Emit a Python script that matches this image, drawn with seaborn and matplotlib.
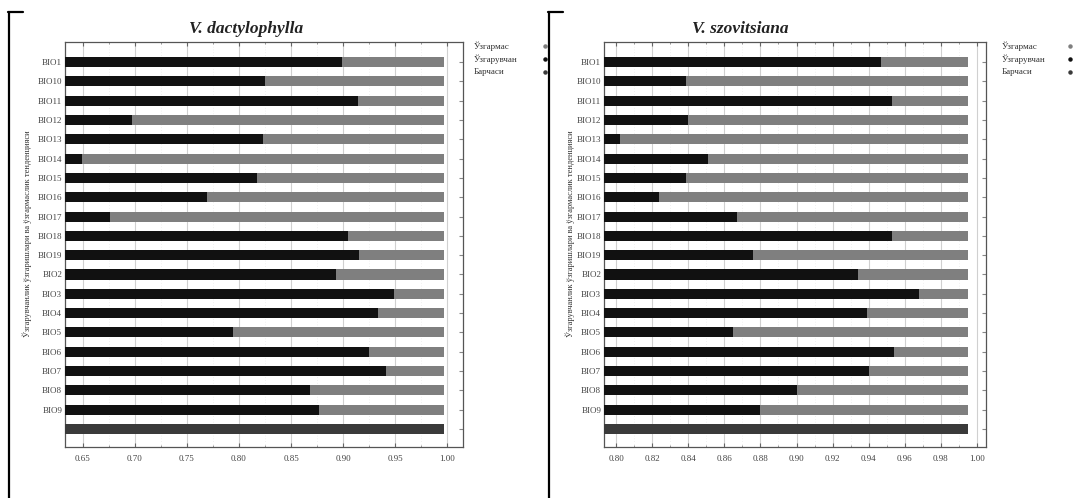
import matplotlib
matplotlib.use("Agg")
import matplotlib.pyplot as plt
from matplotlib.lines import Line2D
from matplotlib.ticker import MultipleLocator
import seaborn as sns
import pandas as pd

# ---------------- data ----------------
variables = ["BIO1", "BIO10", "BIO11", "BIO12", "BIO13", "BIO14", "BIO15", "BIO16",
             "BIO17", "BIO18", "BIO19", "BIO2", "BIO3", "BIO4", "BIO5", "BIO6",
             "BIO7", "BIO8", "BIO9"]
all_label = ""

legend_labels = ["Ўзгармас", "Ўзгарувчан", "Барчаси"]

dact_without = [0.997, 0.997, 0.997, 0.997, 0.997, 0.997, 0.997, 0.997, 0.997, 0.997,
                0.997, 0.997, 0.997, 0.997, 0.997, 0.997, 0.997, 0.997, 0.997]
dact_only = [0.899, 0.825, 0.914, 0.697, 0.823, 0.649, 0.817, 0.769, 0.676, 0.905,
             0.915, 0.893, 0.949, 0.933, 0.794, 0.925, 0.941, 0.868, 0.877]
dact_all = [0.997]

szov_without = [0.995, 0.995, 0.995, 0.995, 0.995, 0.995, 0.995, 0.995, 0.995, 0.995,
                0.995, 0.995, 0.995, 0.995, 0.995, 0.995, 0.995, 0.995, 0.995]
szov_only = [0.947, 0.839, 0.953, 0.840, 0.802, 0.851, 0.839, 0.824, 0.867, 0.953,
             0.876, 0.934, 0.968, 0.939, 0.865, 0.954, 0.940, 0.900, 0.880]
szov_all = [0.995]

titles = ["V. dactylophylla", "V. szovitsiana"]
ylabel = "Ўзгарувчанлик ўзгаришлари ва ўзгармаслик тенденцияси"
x_ticks_dact = [0.65, 0.70, 0.75, 0.80, 0.85, 0.90, 0.95, 1.00]
x_ticks_szov = [0.80, 0.82, 0.84, 0.86, 0.88, 0.90, 0.92, 0.94, 0.96, 0.98, 1.00]

# ---------------- style ----------------
sns.set_style("white")
plt.rcParams["font.family"] = ["Liberation Serif", "DejaVu Serif"]

col_without = "#7f7f7f"
col_only = "#111111"
col_all = "#3a3a3a"

W, H = 1078, 498
fig = plt.figure(figsize=(W / 100, H / 100), dpi=100)


def fx(px):
    return px / W


def fy(py):
    return 1 - py / H


panels = [
    dict(left=65, right=463, without=dact_without, only=dact_only, allv=dact_all,
         ticks=x_ticks_dact, xlim=(0.633, 1.015), fmt="{:.2f}", minor=0.025,
         title=titles[0], title_x=246, ylab_x=27, leg_x=474, dot_x=545, bracket=8.5),
    dict(left=604, right=986, without=szov_without, only=szov_only, allv=szov_all,
         ticks=x_ticks_szov, xlim=(0.7933, 1.005), fmt="{:.2f}", minor=0.01,
         title=titles[1], title_x=740, ylab_x=570, leg_x=1002, dot_x=1070, bracket=548.5),
]

top, bottom = 42, 447
order = variables + [all_label]

for p in panels:
    ax = fig.add_axes([fx(p["left"]), fy(bottom), fx(p["right"] - p["left"]), (bottom - top) / H])
    df_w = pd.DataFrame({"var": variables, "val": p["without"]})
    df_o = pd.DataFrame({"var": variables, "val": p["only"]})
    df_a = pd.DataFrame({"var": [all_label], "val": p["allv"]})
    sns.barplot(data=df_w, x="val", y="var", order=order, color=col_without, saturation=1,
                width=0.52, errorbar=None, linewidth=0, ax=ax, orient="h", zorder=2)
    sns.barplot(data=df_o, x="val", y="var", order=order, color=col_only, saturation=1,
                width=0.52, errorbar=None, linewidth=0, ax=ax, orient="h", zorder=3)
    sns.barplot(data=df_a, x="val", y="var", order=order, color=col_all, saturation=1,
                width=0.52, errorbar=None, linewidth=0, ax=ax, orient="h", zorder=3)
    ax.set_xlim(*p["xlim"])
    ax.set_ylim(19.93, -1.035)
    ax.set_xticks(p["ticks"])
    ax.set_xticklabels([p["fmt"].format(t) for t in p["ticks"]], fontsize=6.5, color="#444444")
    ax.xaxis.set_minor_locator(MultipleLocator(p["minor"]))
    ax.set_yticks(range(len(order)))
    ax.set_yticklabels(order, fontsize=6.5, color="#444444")
    ax.set_xlabel("")
    ax.set_ylabel("")
    ax.grid(axis="x", which="major", color="#d0d0d0", linewidth=0.8, zorder=0)
    ax.grid(axis="x", which="minor", color="#e4e4e4", linewidth=0.5, linestyle=(0, (1, 3)), zorder=0)
    ax.set_axisbelow(True)
    ax.tick_params(axis="x", which="major", direction="in", length=3, color="#666666",
                   top=True, bottom=True, pad=6)
    ax.tick_params(axis="x", which="minor", direction="in", length=1.5, color="#888888",
                   top=True, bottom=True)
    ax.tick_params(axis="y", which="major", direction="in", length=3, color="#888888",
                   left=False, right=True, pad=2)
    for s in ax.spines.values():
        s.set_color("#555555")
        s.set_linewidth(0.9)

    fig.text(fx(p["title_x"]), fy(29), p["title"], ha="center", va="center",
             fontsize=12.5, fontweight="bold", fontstyle="italic", color="#222222")
    fig.text(fx(p["ylab_x"]), fy(234), ylabel, rotation=90, ha="center", va="center",
             fontsize=6, color="#333333")

    leg_cols = [col_without, col_only, col_all]
    for i, (lab, c) in enumerate(zip(legend_labels, leg_cols)):
        yy = 46 + i * 13
        fig.text(fx(p["leg_x"]), fy(yy), lab, ha="left", va="center", fontsize=6.5,
                 color="#333333")
        fig.add_artist(Line2D([fx(p["dot_x"])], [fy(yy)], marker="o", markersize=2.2,
                              color=c, linestyle="none", transform=fig.transFigure))

    b = p["bracket"]
    fig.add_artist(Line2D([fx(b), fx(b)], [fy(12), fy(498)], color="black", linewidth=1.6,
                          transform=fig.transFigure))
    fig.add_artist(Line2D([fx(b - 0.5), fx(b + 14)], [fy(12), fy(12)], color="black",
                          linewidth=1.6, transform=fig.transFigure))

fig.savefig("out.png", dpi=100)
